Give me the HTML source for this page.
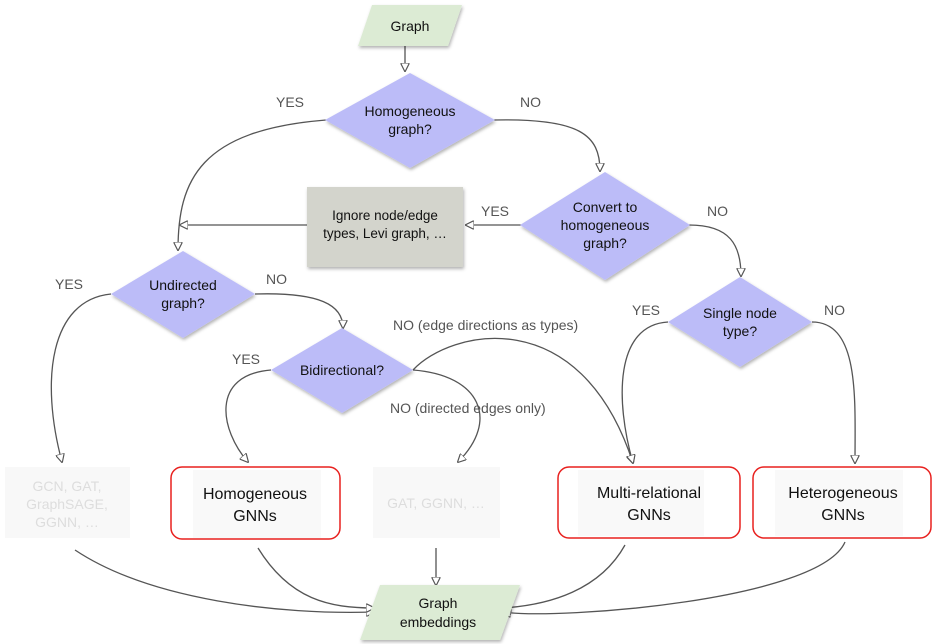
<!DOCTYPE html>
<html><head><meta charset="utf-8"><style>
html,body{margin:0;padding:0;background:#fff;}
svg{display:block;font-family:"Liberation Sans",sans-serif;}
.lbl{font-size:14px;fill:#555;}
.t{font-size:14px;fill:#111;text-anchor:middle;}
.e{fill:none;stroke:#555;stroke-width:1.3;}
</style></head><body>
<svg width="936" height="644" viewBox="0 0 936 644" xmlns="http://www.w3.org/2000/svg">
<defs>
<marker id="a" viewBox="0 0 10 10" refX="9" refY="5" markerWidth="9" markerHeight="9" orient="auto" markerUnits="userSpaceOnUse">
<path d="M0,0 L10,5 L0,10 Z" fill="#fff" stroke="#555" stroke-width="1.3"/></marker>
<filter id="s" x="-10%" y="-10%" width="120%" height="130%"><feDropShadow dx="1" dy="2" stdDeviation="1.5" flood-color="#000" flood-opacity="0.3"/></filter>
</defs>

<path class="e" d="M405,46 L405,71" marker-end="url(#a)"/>
<path class="e" d="M326,120 C200,130 178,180 178,250" marker-end="url(#a)"/>
<path class="e" d="M494,120 C580,118 600,135 600,171" marker-end="url(#a)"/>
<path class="e" d="M521,225 L466,225" marker-end="url(#a)"/>
<path class="e" d="M307,225 L180,225" marker-end="url(#a)"/>
<path class="e" d="M689,225 C730,225 741,245 741,276" marker-end="url(#a)"/>
<path class="e" d="M111,294 C50,300 40,380 62,462" marker-end="url(#a)"/>
<path class="e" d="M255,294 C320,292 343,305 343,328" marker-end="url(#a)"/>
<path class="e" d="M271,370 C210,375 220,430 248,462" marker-end="url(#a)"/>
<path class="e" d="M413,370 C480,375 500,420 458,462" marker-end="url(#a)"/>
<path class="e" d="M413,370 C450,330 580,300 633,463" marker-end="url(#a)"/>
<path class="e" d="M668,322 C615,325 615,400 633,463" marker-end="url(#a)"/>
<path class="e" d="M812,322 C860,322 855,400 855,463" marker-end="url(#a)"/>
<path class="e" d="M75,550 C150,600 280,615 374,612" marker-end="url(#a)"/>
<path class="e" d="M258,548 C290,600 330,608 374,608" marker-end="url(#a)"/>
<path class="e" d="M436,548 L436,585" marker-end="url(#a)"/>
<path class="e" d="M625,545 C600,590 550,605 503,608" marker-end="url(#a)"/>
<path class="e" d="M845,542 C820,600 560,620 503,612" marker-end="url(#a)"/>

<polygon points="372,5 462,5 448,46 358,46" fill="#dcebd4" filter="url(#s)"/>
<text class="t" x="410" y="31">Graph</text>

<polygon points="410,73 495,120 410,168 325,120" fill="#bcbcf8" filter="url(#s)"/>
<text class="t" x="410" y="116">Homogeneous</text><text class="t" x="410" y="134">graph?</text>
<polygon points="605,172 690,225 605,280 520,225" fill="#bcbcf8" filter="url(#s)"/>
<text class="t" x="605" y="212">Convert to</text><text class="t" x="605" y="230">homogeneous</text><text class="t" x="605" y="248">graph?</text>
<polygon points="740,277 812,322 740,367 668,322" fill="#bcbcf8" filter="url(#s)"/>
<text class="t" x="740" y="318">Single node</text><text class="t" x="740" y="336">type?</text>
<polygon points="183,251 255,294 183,338 111,294" fill="#bcbcf8" filter="url(#s)"/>
<text class="t" x="183" y="290">Undirected</text><text class="t" x="183" y="308">graph?</text>
<polygon points="342,328 413,370 342,413 271,370" fill="#bcbcf8" filter="url(#s)"/>
<text class="t" x="342" y="375">Bidirectional?</text>

<rect x="307" y="187" width="156" height="80" fill="#d3d4cc" filter="url(#s)"/>
<text class="t" x="385" y="220" style="font-size:13.5px">Ignore node/edge</text>
<text class="t" x="385" y="238" style="font-size:13.5px">types, Levi graph, …</text>

<text class="lbl" x="276" y="107">YES</text>
<text class="lbl" x="520" y="107">NO</text>
<text class="lbl" x="481" y="216">YES</text>
<text class="lbl" x="707" y="216">NO</text>
<text class="lbl" x="55" y="289">YES</text>
<text class="lbl" x="266" y="284">NO</text>
<text class="lbl" x="632" y="315">YES</text>
<text class="lbl" x="824" y="315">NO</text>
<text class="lbl" x="232" y="364">YES</text>
<text class="lbl" x="393" y="330">NO (edge directions as types)</text>
<text class="lbl" x="390" y="413">NO (directed edges only)</text>

<rect x="5" y="467" width="125" height="71" fill="#f8f8f8"/>
<text class="t" x="67" y="491" style="fill:#ddd">GCN, GAT,</text>
<text class="t" x="67" y="509" style="fill:#ddd">GraphSAGE,</text>
<text class="t" x="67" y="527" style="fill:#ddd">GGNN, …</text>
<rect x="373" y="467" width="127" height="71" fill="#f8f8f8"/>
<text class="t" x="436" y="508" style="fill:#ddd">GAT, GGNN, …</text>

<rect x="171" y="467" width="169" height="72" rx="11" fill="#fff" stroke="#e8201e" stroke-width="1.5"/>
<rect x="193" y="470" width="128" height="68" fill="#f9f9f9"/>
<text class="t" x="255" y="499" style="font-size:16px">Homogeneous</text>
<text class="t" x="255" y="521" style="font-size:16px">GNNs</text>
<rect x="558" y="467" width="182" height="71" rx="11" fill="#fff" stroke="#e8201e" stroke-width="1.5"/>
<rect x="578" y="470" width="126" height="66" fill="#f9f9f9"/>
<text class="t" x="649" y="498" style="font-size:16px">Multi-relational</text>
<text class="t" x="649" y="520" style="font-size:16px">GNNs</text>
<rect x="753" y="467" width="178" height="71" rx="11" fill="#fff" stroke="#e8201e" stroke-width="1.5"/>
<rect x="775" y="470" width="128" height="66" fill="#f9f9f9"/>
<text class="t" x="843" y="498" style="font-size:16px">Heterogeneous</text>
<text class="t" x="843" y="520" style="font-size:16px">GNNs</text>

<polygon points="380,585 520,585 500,640 360,640" fill="#dcebd4" filter="url(#s)"/>
<text class="t" x="438" y="608">Graph</text>
<text class="t" x="438" y="627">embeddings</text>
</svg>
</body></html>
